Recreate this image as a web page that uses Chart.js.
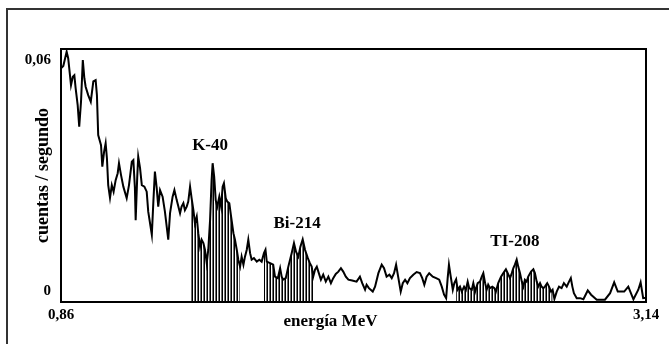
<!DOCTYPE html>
<html>
<head>
<meta charset="utf-8">
<script src="https://cdn.jsdelivr.net/npm/chart.js@4/dist/chart.umd.min.js"></script>
<style>
  html, body { margin: 0; padding: 0; background: #fff; }
  #wrap { width: 669px; height: 355px; }
</style>
</head>
<body>
<div id="wrap"><canvas id="spectrumChart"></canvas></div>
<script>
// energy (MeV) of each channel
const energia = [
  0.860, 0.869, 0.882, 0.888, 0.899, 0.906, 0.912, 0.917, 0.925, 0.931,
  0.938, 0.945, 0.951, 0.956, 0.966, 0.976, 0.986, 0.995, 1.000, 1.005,
  1.016, 1.021, 1.028, 1.034, 1.039, 1.044, 1.051, 1.058, 1.065, 1.073,
  1.081, 1.086, 1.094, 1.103, 1.116, 1.125, 1.136, 1.142, 1.148, 1.151,
  1.157, 1.161, 1.168, 1.175, 1.185, 1.194, 1.200, 1.214, 1.220, 1.226,
  1.233, 1.239, 1.246, 1.256, 1.265, 1.272, 1.278, 1.285, 1.295, 1.302,
  1.311, 1.324, 1.330, 1.337, 1.343, 1.350, 1.356, 1.363, 1.369, 1.376,
  1.382, 1.389, 1.395, 1.402, 1.408, 1.415, 1.421, 1.428, 1.434, 1.441,
  1.447, 1.451, 1.457, 1.463, 1.469, 1.477, 1.484, 1.490, 1.495, 1.502,
  1.508, 1.516, 1.523, 1.532, 1.538, 1.545, 1.551, 1.558, 1.564, 1.571,
  1.577, 1.584, 1.590, 1.597, 1.603, 1.612, 1.623, 1.633, 1.642, 1.651,
  1.657, 1.662, 1.675, 1.687, 1.694, 1.705, 1.714, 1.720, 1.726, 1.736,
  1.746, 1.759, 1.768, 1.776, 1.785, 1.793, 1.802, 1.811, 1.822, 1.830,
  1.837, 1.843, 1.850, 1.857, 1.863, 1.873, 1.882, 1.892, 1.902, 1.912,
  1.921, 1.931, 1.941, 1.951, 1.960, 1.970, 1.980, 1.995, 2.012, 2.025,
  2.034, 2.045, 2.051, 2.060, 2.075, 2.084, 2.097, 2.110, 2.119, 2.129,
  2.140, 2.149, 2.158, 2.166, 2.175, 2.184, 2.192, 2.201, 2.210, 2.220,
  2.233, 2.246, 2.259, 2.268, 2.276, 2.285, 2.295, 2.309, 2.322, 2.334,
  2.344, 2.353, 2.361, 2.367, 2.372, 2.379, 2.387, 2.393, 2.400, 2.406,
  2.415, 2.422, 2.431, 2.438, 2.445, 2.451, 2.461, 2.467, 2.474, 2.484,
  2.493, 2.500, 2.506, 2.513, 2.519, 2.525, 2.532, 2.541, 2.549, 2.555,
  2.564, 2.575, 2.584, 2.594, 2.601, 2.610, 2.617, 2.623, 2.629, 2.636,
  2.642, 2.649, 2.656, 2.662, 2.668, 2.675, 2.681, 2.692, 2.701, 2.707,
  2.714, 2.720, 2.727, 2.733, 2.740, 2.746, 2.755, 2.762, 2.770, 2.776,
  2.783, 2.792, 2.801, 2.811, 2.820, 2.831, 2.840, 2.847, 2.853, 2.859,
  2.870, 2.883, 2.896, 2.913, 2.926, 2.948, 2.980, 3.000, 3.016, 3.030,
  3.055, 3.071, 3.091, 3.110, 3.119, 3.129, 3.140
];

// counts per second
const cuentas = [
  0.0579, 0.0585, 0.0622, 0.0605, 0.0535, 0.0557, 0.0561, 0.0527, 0.0483, 0.0427,
  0.0492, 0.0600, 0.0553, 0.0531, 0.0509, 0.0492, 0.0545, 0.0548, 0.0509, 0.0405,
  0.0379, 0.0323, 0.0362, 0.0384, 0.0345, 0.0275, 0.0242, 0.0275, 0.0258, 0.0288,
  0.0306, 0.0332, 0.0301, 0.0271, 0.0241, 0.0275, 0.0336, 0.0340, 0.0268, 0.0184,
  0.0294, 0.0349, 0.0320, 0.0275, 0.0271, 0.0258, 0.0206, 0.0146, 0.0232, 0.0310,
  0.0267, 0.0219, 0.0262, 0.0245, 0.0206, 0.0167, 0.0133, 0.0202, 0.0245, 0.0262,
  0.0236, 0.0202, 0.0219, 0.0228, 0.0210, 0.0219, 0.0232, 0.0271, 0.0241, 0.0210,
  0.0176, 0.0193, 0.0150, 0.0115, 0.0133, 0.0124, 0.0107, 0.0072, 0.0107, 0.0184,
  0.0288, 0.0332, 0.0297, 0.0236, 0.0219, 0.0245, 0.0219, 0.0271, 0.0280, 0.0241,
  0.0232, 0.0228, 0.0193, 0.0150, 0.0133, 0.0107, 0.0081, 0.0063, 0.0089, 0.0068,
  0.0089, 0.0107, 0.0133, 0.0098, 0.0081, 0.0085, 0.0076, 0.0081, 0.0076, 0.0098,
  0.0107, 0.0076, 0.0072, 0.0068, 0.0037, 0.0033, 0.0059, 0.0037, 0.0029, 0.0033,
  0.0063, 0.0098, 0.0124, 0.0102, 0.0089, 0.0115, 0.0134, 0.0107, 0.0085, 0.0072,
  0.0063, 0.0037, 0.0055, 0.0063, 0.0050, 0.0029, 0.0042, 0.0024, 0.0037, 0.0020,
  0.0033, 0.0044, 0.0050, 0.0059, 0.0050, 0.0037, 0.0029, 0.0027, 0.0024, 0.0037,
  0.0020, 0.0003, 0.0016, 0.0007, -0.0002, 0.0011, 0.0046, 0.0068, 0.0059, 0.0037,
  0.0042, 0.0033, 0.0046, 0.0068, 0.0033, -0.0002, 0.0020, 0.0029, 0.0020, 0.0033,
  0.0042, 0.0049, 0.0046, 0.0033, 0.0016, 0.0037, 0.0046, 0.0037, 0.0033, 0.0029,
  0.0011, -0.0010, -0.0019, 0.0033, 0.0068, 0.0037, 0.0003, 0.0020, 0.0030, 0.0003,
  0.0011, -0.0002, 0.0011, 0.0003, 0.0024, 0.0007, 0.0003, 0.0020, -0.0002, 0.0020,
  0.0024, 0.0037, 0.0046, 0.0020, 0.0003, 0.0016, 0.0007, 0.0011, 0.0007, -0.0002,
  0.0020, 0.0037, 0.0046, 0.0056, 0.0046, 0.0033, 0.0046, 0.0059, 0.0068, 0.0081,
  0.0063, 0.0046, 0.0024, 0.0011, 0.0029, 0.0024, 0.0037, 0.0050, 0.0056, 0.0046,
  0.0024, 0.0011, 0.0020, 0.0011, 0.0007, 0.0011, 0.0020, 0.0011, -0.0002, 0.0003,
  -0.0021, -0.0002, 0.0011, 0.0007, 0.0020, 0.0011, 0.0024, 0.0033, 0.0011, -0.0006,
  -0.0019, -0.0019, -0.0022, 0.0001, -0.0010, -0.0023, -0.0023, -0.0006, 0.0022, -0.0002,
  -0.0002, 0.0011, -0.0022, 0.0003, 0.0022, -0.0019, -0.0018
];

// shaded peak windows (MeV) and where their names sit
const picos = ['K-40', 'Bi-214', 'TI-208'];
const picoInicio = [1.363, 1.651, 2.400];
const picoFin = [1.558, 1.846, 2.776];
const etiquetaE = [1.441, 1.780, 2.629];
const etiquetaC = [0.0377, 0.0174, 0.0129];

const ticksX = [0.86, 3.14];
const ticksY = [0, 0.06];

const serif = '"Liberation Serif", "DejaVu Serif", serif';
const coma = v => String(+v.toFixed(2)).replace('.', ',');

// vertical hatch used under the peaks
function hatch() {
  const c = document.createElement('canvas');
  c.width = 3; c.height = 1;
  const g = c.getContext('2d');
  g.fillStyle = '#fff'; g.fillRect(0, 0, 3, 1);
  g.fillStyle = '#000'; g.fillRect(0, 0, 1, 1);
  g.fillStyle = '#707070'; g.fillRect(2, 0, 1, 1);
  return g.createPattern(c, 'repeat');
}
const trama = hatch();

const puntos = energia.map((e, i) => ({ x: e, y: cuentas[i] }));

const datasets = [{
  label: 'espectro',
  data: puntos,
  borderColor: '#000',
  borderWidth: 2,
  pointRadius: 0,
  tension: 0,
  fill: false,
  order: 0
}];
picos.forEach((nombre, k) => {
  datasets.push({
    label: nombre,
    data: puntos.filter(p => p.x >= picoInicio[k] && p.x <= picoFin[k]),
    borderWidth: 0,
    pointRadius: 0,
    backgroundColor: trama,
    fill: 'start',
    order: 1
  });
});

const decor = {
  id: 'decor',
  beforeDraw(chart) {
    const ctx = chart.ctx;
    ctx.save();
    ctx.fillStyle = '#fff';
    ctx.fillRect(0, 0, chart.width, chart.height);
    ctx.strokeStyle = '#333';
    ctx.lineWidth = 2;
    ctx.beginPath();
    ctx.moveTo(7, 344);
    ctx.lineTo(7, 9);
    ctx.lineTo(chart.width, 9);
    ctx.stroke();
    ctx.restore();
  },
  afterDatasetsDraw(chart) {
    const { ctx, chartArea: a, scales } = chart;
    ctx.save();
    ctx.strokeStyle = '#000';
    ctx.lineWidth = 2;
    ctx.strokeRect(a.left, a.top, a.right - a.left, a.bottom - a.top);
    ctx.fillStyle = '#000';
    ctx.textAlign = 'center';
    ctx.textBaseline = 'middle';
    ctx.font = 'bold 17px ' + serif;
    picos.forEach((nombre, k) => {
      ctx.fillText(nombre, scales.x.getPixelForValue(etiquetaE[k]), scales.y.getPixelForValue(etiquetaC[k]));
    });
    ctx.fillText('energía MeV', (a.left + a.right) / 2 - 23, a.bottom + 20);
    ctx.restore();
  }
};

new Chart(document.getElementById('spectrumChart'), {
  type: 'line',
  data: { datasets },
  options: {
    responsive: true,
    maintainAspectRatio: false,
    animation: false,
    layout: { padding: { top: 49, right: 23, left: 0, bottom: 0 } },
    plugins: {
      legend: { display: false },
      tooltip: { enabled: false }
    },
    scales: {
      x: {
        type: 'linear',
        min: 0.86,
        max: 3.14,
        grid: { display: false, drawTicks: false },
        border: { display: false },
        afterBuildTicks: s => { s.ticks = ticksX.map(v => ({ value: v })); },
        afterFit: s => { s.height = 53; },
        ticks: {
          padding: 4,
          maxRotation: 0,
          color: '#000',
          font: { family: serif, size: 15, weight: 'bold' },
          callback: v => coma(v)
        }
      },
      y: {
        min: -0.0029,
        max: 0.0629,
        grid: { display: false, drawTicks: false },
        border: { display: false },
        afterBuildTicks: s => { s.ticks = ticksY.map(v => ({ value: v })); },
        afterFit: s => { s.width = 61; },
        ticks: {
          padding: 10,
          color: '#000',
          font: { family: serif, size: 15, weight: 'bold' },
          callback: v => coma(v)
        },
        title: {
          display: true,
          text: 'cuentas / segundo',
          color: '#000',
          font: { family: serif, size: 18, weight: 'bold' },
          padding: { top: 33, bottom: 0 }
        }
      }
    }
  },
  plugins: [decor]
});
</script>
</body>
</html>
